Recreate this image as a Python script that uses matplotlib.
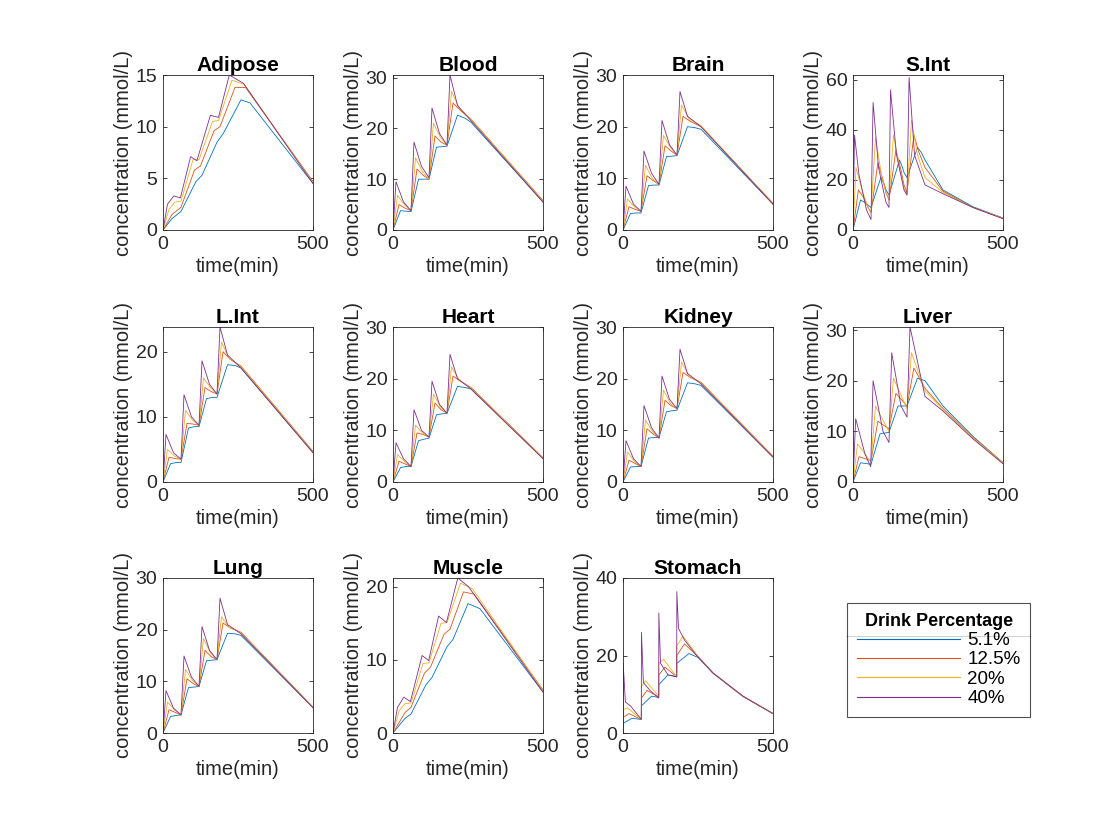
import matplotlib
matplotlib.use("Agg")
import matplotlib.pyplot as plt
from matplotlib.lines import Line2D

plt.rcParams['font.family'] = ['Liberation Sans', 'DejaVu Sans']

# drink strengths, order: 5.1%, 12.5%, 20%, 40%
labels = ["5.1%", "12.5%", "20%", "40%"]
colors = ["#0072BD", "#D95319", "#EDB120", "#7E2F8E"]

# default time points (min) per series for the "spiky" tissues
t_blue = [0, 25, 45, 60, 85, 105, 120, 145, 165, 180, 215, 240, 260, 500]
t_orange = [0, 20, 40, 60, 80, 100, 120, 140, 160, 180, 200, 225, 260, 500]
t_yellow = [0, 15, 38, 60, 75, 98, 120, 135, 158, 180, 195, 220, 260, 500]
t_purple = [0, 10, 35, 60, 70, 95, 120, 130, 155, 180, 190, 215, 260, 500]
t_std = [t_blue, t_orange, t_yellow, t_purple]

# concentrations (mmol/L), rows: blue, orange, yellow, purple
blood = [[0, 3.8, 3.7, 3.6, 10, 10, 10, 16.3, 16.4, 16.5, 22.6, 22, 21.2, 5.5],
         [0, 5, 4.3, 3.8, 12, 10.8, 10, 18.5, 17.3, 16.7, 25, 23.5, 21.8, 5.8],
         [0, 6.8, 5, 3.8, 14.2, 11.5, 10, 21, 18.2, 16.7, 27.3, 24, 21.8, 5.7],
         [0, 9.5, 5.5, 3.8, 17.3, 12.5, 10.3, 24, 19, 16.7, 30.5, 24.5, 21.5, 5.5]]
brain = [[0, 3.2, 3.3, 3.3, 8.6, 8.7, 8.7, 14.2, 14.3, 14.4, 20, 19.8, 19.5, 5],
         [0, 4.5, 4, 3.6, 10.5, 9.6, 8.8, 16.3, 15.3, 14.5, 22, 21, 20, 5.2],
         [0, 6, 4.5, 3.6, 12.5, 10, 8.8, 18.3, 16, 14.5, 24.2, 21.5, 20.2, 5.1],
         [0, 8.5, 5, 3.6, 15.3, 11, 8.8, 21.2, 16.5, 14.5, 26.8, 22, 20, 5]]
lint = [[0, 2.8, 3, 3, 8.3, 8.5, 8.5, 12.8, 13, 13, 18, 17.9, 17.5, 4.5],
        [0, 3.8, 3.6, 3.5, 9, 8.9, 8.7, 14.5, 13.9, 13.5, 20, 18.8, 17.8, 4.7],
        [0, 5, 4, 3.5, 11, 9.5, 8.7, 16, 14.5, 13.5, 21.5, 19, 17.7, 4.6],
        [0, 7.3, 4.5, 3.5, 13.4, 10, 8.7, 18.6, 15, 13.5, 23.8, 19.5, 17.5, 4.5]]
heart = [[0, 2.8, 3, 3, 8, 8.3, 8.5, 13, 13.2, 13.3, 18.5, 18.3, 18, 4.6],
         [0, 4, 3.5, 3, 9.5, 9.2, 8.7, 15.3, 14, 13.3, 20.5, 19.5, 18.3, 4.7],
         [0, 5.3, 4, 3, 11, 9.5, 8.7, 17, 14.5, 13.3, 22.3, 19.8, 18.2, 4.6],
         [0, 7.6, 4.5, 3, 14, 10, 8.7, 19.5, 15, 13.3, 24.7, 20, 18, 4.5]]
kidney = [[0, 2.9, 3, 3, 8.5, 8.6, 8.6, 13.6, 13.8, 13.9, 19.2, 19, 18.7, 4.8],
          [0, 4.2, 3.6, 3, 10.3, 9.3, 8.5, 15.8, 14.8, 14.2, 21.2, 20.2, 19.3, 5],
          [0, 5.8, 4, 3, 12, 9.8, 8.5, 17.8, 15.2, 14.2, 23.2, 20.5, 19.2, 4.9],
          [0, 8, 4.5, 3, 14.8, 10.5, 8.5, 20.5, 16, 14.2, 25.7, 21, 19, 4.8]]
lung = [[0, 3.2, 3.4, 3.5, 8.8, 8.9, 9, 14, 14.1, 14.2, 19.3, 19.2, 18.9, 4.9],
        [0, 4.5, 4, 3.5, 10.5, 9.6, 9, 16, 14.8, 14.2, 21.3, 20.3, 19.5, 5],
        [0, 6, 4.5, 3.5, 12.3, 10.2, 9, 18.3, 15.5, 14.2, 22.5, 20.5, 19.4, 5],
        [0, 8.2, 4.8, 3.5, 14.9, 10.8, 9, 20.6, 16, 14.2, 26.1, 21, 19.2, 4.9]]

# tissues with their own time points
adipose_t = [[0, 30, 60, 110, 130, 180, 200, 260, 290, 500],
             [0, 30, 60, 105, 125, 170, 190, 240, 275, 500],
             [0, 20, 40, 60, 100, 120, 165, 185, 230, 270, 500],
             [0, 15, 36, 58, 92, 113, 158, 185, 221, 268, 500]]
adipose = [[0, 1.1, 1.8, 4.7, 5.3, 8.5, 9.3, 12.6, 12.3, 4.5],
           [0, 1.5, 2.2, 5.8, 6.2, 9.6, 10, 13.8, 13.8, 4.7],
           [0, 2, 2.7, 2.8, 6.8, 6.8, 10.5, 10.6, 14.5, 14.1, 4.6],
           [0, 2.5, 3.3, 3.1, 7.1, 6.7, 11.1, 10.9, 15, 14.2, 4.5]]

muscle_t = [[0, 40, 60, 110, 130, 180, 200, 250, 290, 500],
            [0, 40, 60, 105, 125, 170, 190, 235, 270, 500],
            [0, 20, 40, 60, 100, 120, 160, 180, 225, 265, 500],
            [0, 15, 36, 58, 97, 119, 152, 178, 216, 252, 500]]
muscle = [[0, 2, 2.6, 6.6, 7.6, 11.8, 12.8, 17.7, 17, 5.6],
          [0, 2.8, 3.5, 8.2, 9, 13.5, 14.2, 19.3, 19, 5.9],
          [0, 3, 4, 4.1, 9.5, 9.6, 15, 15.1, 20.5, 19.7, 5.8],
          [0, 3.5, 4.9, 4.3, 10.6, 9.9, 16, 15.1, 21.2, 20, 5.6]]

sint_t = [[0, 25, 40, 50, 60, 93, 105, 110, 120, 155, 165, 170, 180, 215, 228, 240, 300, 400, 500],
          [0, 18, 35, 50, 60, 83, 100, 110, 120, 143, 160, 170, 180, 203, 220, 240, 300, 400, 500],
          [0, 10, 30, 50, 60, 75, 95, 110, 120, 135, 155, 170, 180, 195, 215, 240, 300, 400, 500],
          [0, 5, 20, 45, 60, 67, 85, 110, 120, 125, 145, 170, 180, 187, 205, 240, 300, 400, 500]]
sint = [[0, 12, 11, 10, 9, 21, 18, 16, 14, 28, 25, 23, 21, 33, 31, 28, 16, 9.3, 4.8],
        [0, 16, 13, 9, 7, 27, 20, 15, 12, 32, 24, 18, 15, 38, 31, 25, 15.5, 9, 4.7],
        [0, 25, 16, 9, 7, 37, 22, 15, 12, 38, 25, 17, 14, 44, 30, 21, 15, 9, 4.7],
        [0, 38, 22, 8, 4.2, 51, 25, 11, 9, 56, 30, 16, 14, 61, 30, 18, 14.5, 9, 4.5]]

liver_t = [[0, 25, 60, 90, 120, 150, 180, 215, 240, 300, 400, 500],
           [0, 20, 60, 83, 120, 143, 180, 203, 240, 300, 400, 500],
           [0, 15, 60, 75, 120, 135, 180, 195, 240, 300, 400, 500],
           [0, 9, 40, 59, 67, 100, 120, 129, 160, 180, 190, 240, 300, 400, 500]]
liver = [[0, 3.8, 3.5, 9.5, 9.8, 15, 15, 20.5, 20, 15, 9, 3.8],
         [0, 5, 4.2, 12, 10.5, 17.5, 15, 22.5, 18.5, 14.5, 8.8, 3.8],
         [0, 7.5, 4, 15, 10, 20.5, 14.5, 25.5, 18, 14.3, 8.7, 3.8],
         [0, 12.5, 5.5, 3, 20, 10, 7.8, 25.5, 15, 12.8, 30.6, 16.9, 14, 8.5, 3.6]]

stomach_t = [[0, 0.5, 30, 61, 61.5, 95, 119, 119.5, 150, 179, 179.5, 220, 250, 300, 400, 500],
             [0, 0.5, 20, 61, 61.5, 80, 119, 119.5, 140, 179, 179.5, 205, 250, 300, 400, 500],
             [0, 0.5, 15, 61, 61.5, 75, 119, 119.5, 135, 179, 179.5, 200, 250, 300, 400, 500],
             [0, 0.5, 8, 25, 61, 61.5, 68, 90, 119, 119.5, 125, 150, 179, 179.5, 185, 205, 240, 300, 400, 500]]
stomach = [[0, 2.5, 3.8, 3.5, 7, 9.5, 9.2, 12.5, 15, 14.5, 18, 20.5, 19.5, 15.4, 9.4, 5],
           [0, 4, 5, 3.5, 9, 11, 9.3, 15, 17, 14.5, 20, 23, 19.7, 15.5, 9.5, 5],
           [0, 6, 6.5, 3.5, 12, 13.5, 9.5, 18, 19, 14.5, 22.5, 25, 19.8, 15.5, 9.5, 5],
           [0, 18, 8, 7, 3.5, 26, 13, 11, 9, 31, 18, 15, 14.5, 36.5, 27, 24, 20.5, 15.5, 9.5, 5]]

panels = [("Adipose", adipose_t, adipose, 15, [0, 5, 10, 15]),
          ("Blood", t_std, blood, 30.5, [0, 10, 20, 30]),
          ("Brain", t_std, brain, 30, [0, 10, 20, 30]),
          ("S.Int", sint_t, sint, 62, [0, 20, 40, 60]),
          ("L.Int", t_std, lint, 23.8, [0, 10, 20]),
          ("Heart", t_std, heart, 30, [0, 10, 20, 30]),
          ("Kidney", t_std, kidney, 30, [0, 10, 20, 30]),
          ("Liver", liver_t, liver, 30.6, [0, 10, 20, 30]),
          ("Lung", t_std, lung, 30, [0, 10, 20, 30]),
          ("Muscle", muscle_t, muscle, 21.2, [0, 10, 20]),
          ("Stomach", stomach_t, stomach, 40, [0, 20, 40])]

W, H = 1120, 840
fig = plt.figure(figsize=(W / 100, H / 100), dpi=100)
lefts = [163, 393, 623, 853]
bottoms = [230, 482, 733]
aw, ah = 150, 155

for i, (name, times, vals, ytop, yt) in enumerate(panels):
    r, c = divmod(i, 4)
    ax = fig.add_axes([lefts[c] / W, 1 - bottoms[r] / H, aw / W, ah / H])
    for k in range(4):
        ax.plot(times[k], vals[k], color=colors[k], lw=0.6, label=labels[k])
    ax.set_xlim(0, 500)
    ax.set_ylim(0, ytop)
    ax.set_xticks([0, 500])
    ax.set_yticks(yt)
    ax.tick_params(direction='in', length=3, width=0.6, labelsize=14,
                   top=True, right=True, colors='#262626', pad=4)
    for s in ax.spines.values():
        s.set_linewidth(0.6)
        s.set_color('#262626')
    ax.set_title(name, fontsize=15, fontweight='bold', pad=3)
    ax.set_xlabel("time(min)", fontsize=14.5, color='#262626', labelpad=3)
    ax.set_ylabel("concentration (mmol/L)", fontsize=14.5, color='#262626', labelpad=2)

handles = [Line2D([], [], color=col, lw=0.8) for col in colors]
leg = fig.legend(handles, labels, title="Drink Percentage", loc='upper left',
                 bbox_to_anchor=(838 / W, 1 - 594 / H), fontsize=13.5,
                 title_fontproperties={'weight': 'bold', 'size': 13},
                 frameon=True, fancybox=False, edgecolor='#262626',
                 handlelength=5.5, labelspacing=0.12, borderpad=0.5,
                 handletextpad=0.4)
leg.get_frame().set_linewidth(0.8)
leg._legend_title_box._text.set_y(0)
fig.canvas.draw()
bb = leg.get_window_extent()
tb = leg.get_title().get_window_extent()
ysep = (tb.y0 - 6) / H
fig.add_artist(Line2D([bb.x0 / W, bb.x1 / W], [ysep, ysep], color='#262626', lw=0.8))

fig.savefig("out.png", dpi=100)
